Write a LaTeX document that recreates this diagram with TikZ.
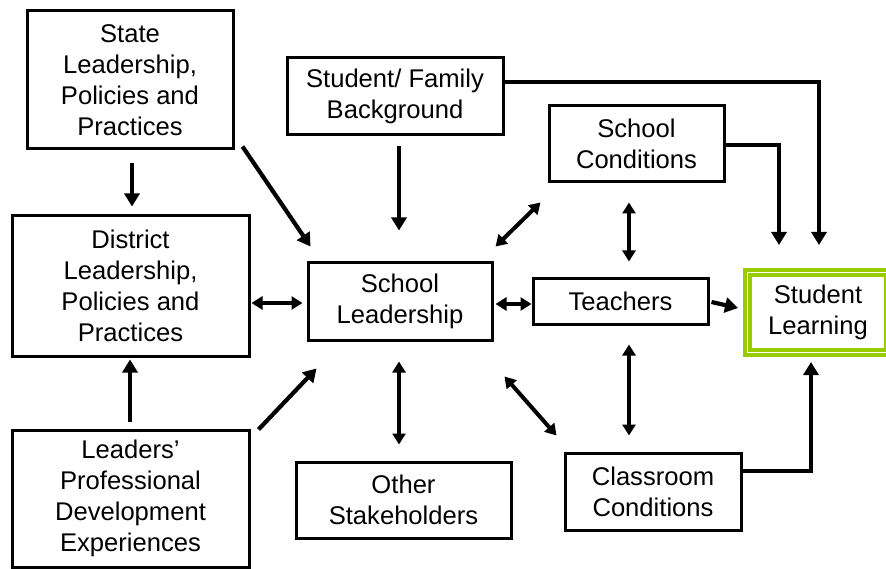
\documentclass[tikz,border=0pt]{standalone}
\usepackage{fontspec}
\setmainfont{Liberation Sans}
\usetikzlibrary{arrows.meta,calc}
\definecolor{lgreen}{RGB}{153,204,0}
\begin{document}
\begin{tikzpicture}[x=1pt,y=-1pt,
  box/.style={draw=black, line width=3pt, inner sep=0pt, align=center,
    font=\fontsize{25.6}{30.8}\selectfont},
  conn/.style={line width=4.2pt, -{Triangle[length=13pt,width=15pt]}},
  biconn/.style={line width=4pt,
    {Triangle[length=11pt,width=13pt]}-{Triangle[length=11pt,width=13pt]}},
  learnbox/.style={draw=lgreen, line width=4pt, double=white, double distance=1.3pt,
    inner sep=0pt, align=center, font=\fontsize{25.6}{30.8}\selectfont}
]
\useasboundingbox (0,0) rectangle (886,569);
\fill[white] (0,0) rectangle (886,569);

% nodes
\node[box, minimum width=206pt, minimum height=138pt] (state) at (130,80)
  {State\\Leadership,\\Policies and\\Practices};
\node[box, minimum width=216pt, minimum height=77pt] (sfb) at (395,96.5)
  {Student/ Family\\Background};
\node[box, minimum width=175pt, minimum height=76pt] (scond) at (636.5,144)
  {School\\Conditions};
\node[box, minimum width=237pt, minimum height=140pt] (district) at (130.5,286)
  {District\\Leadership,\\Policies and\\Practices};
\node[box, minimum width=184pt, minimum height=77pt] (school) at (400,301.5)
  {School\\Leadership};
\node[box, minimum width=175pt, minimum height=45pt] (teachers) at (620.5,301.5)
  {Teachers};
\node[learnbox, minimum width=141pt, minimum height=80pt] (learn) at (818,312.5)
  {Student\\Learning};
\node[box, minimum width=237pt, minimum height=137pt] (leaders) at (130.5,498.5)
  {Leaders’\\Professional\\Development\\Experiences};
\node[box, minimum width=215pt, minimum height=76pt] (other) at (403.5,500)
  {Other\\Stakeholders};
\node[box, minimum width=176pt, minimum height=77pt] (classroom) at (653,491.5)
  {Classroom\\Conditions};

% connectors
\draw[conn] ($(state.south)+(2,13)$) -- ($(district.north)+(1.5,-8)$);
\draw[conn] ($(state.south east)+(8,-4)$) -- ($(school.north west)+(4,-15)$);
\draw[conn] ($(sfb.south)+(4,10)$) -- ($(school.north)+(-1,-31)$);
\draw[conn] ($(sfb.east)+(0,-14.5)$) -| ($(learn.north)+(1,-25.5)$);
\draw[conn] ($(scond.east)+(0,1)$) -| ($(learn.north)+(-39,-25.5)$);
\draw[biconn] ($(school.north east)+(2,-15)$) -- ($(scond.south west)+(-7,19)$);
\draw[biconn] ($(scond.south)+(-7.5,19)$) -- ($(teachers.north)+(8.5,-16)$);
\draw[biconn] ($(district.east)+(1,17)$) -- ($(school.west)+(-4,1.5)$);
\draw[biconn] ($(school.east)+(2,2.5)$) -- ($(teachers.west)+(0,2.5)$);
\draw[conn] ($(teachers.east)+(2,0.5)$) -- ($(learn.west)+(-7.5,-4.5)$);
\draw[conn] ($(leaders.north)+(-0.5,-7)$) -- ($(district.south)+(-0.5,2)$);
\draw[conn] ($(leaders.north east)+(8,1)$) -- ($(school.south west)+(10,27)$);
\draw[biconn] ($(school.south)+(-1,20)$) -- ($(other.north)+(-4.5,-16)$);
\draw[biconn] ($(school.south east)+(11,35)$) -- ($(classroom.north west)+(-7,-16)$);
\draw[biconn] ($(teachers.south)+(8.5,19)$) -- ($(classroom.north)+(-24,-16)$);
\draw[conn] ($(classroom.east)+(0,-20.5)$) -| ($(learn.south)+(-7,7.5)$);
\end{tikzpicture}
\end{document}
